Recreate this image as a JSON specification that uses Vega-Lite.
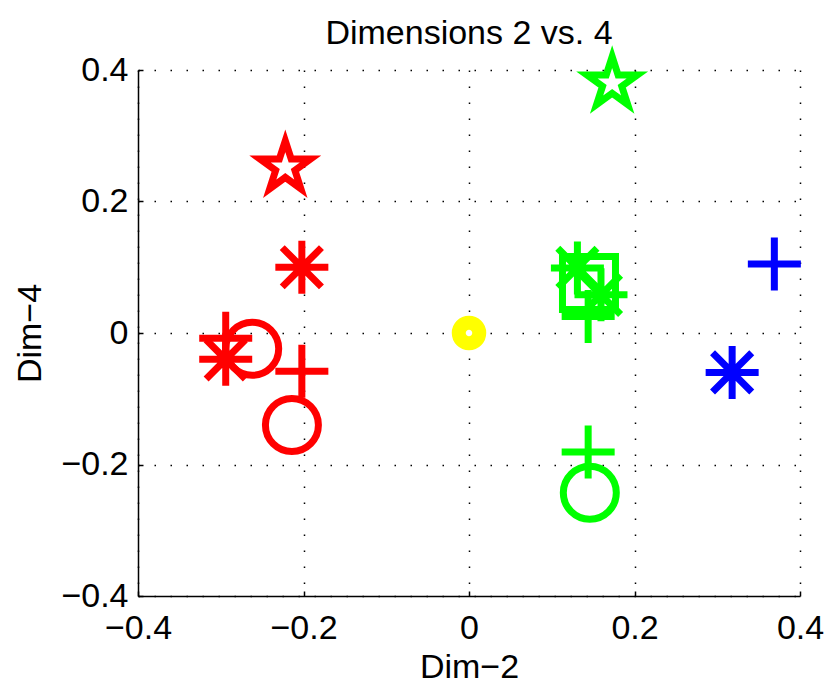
{
  "$schema": "https://vega.github.io/schema/vega-lite/v6.json",
  "width": 662,
  "height": 526,
  "autosize": {"type": "none"},
  "padding": {"left": 138, "top": 70, "right": 30, "bottom": 87},
  "background": "white",
  "config": {
    "font": "Liberation Sans",
    "view": {"stroke": null},
    "axis": {
      "labelFont": "Liberation Sans",
      "labelFontSize": 34,
      "labelColor": "black",
      "titleFont": "Liberation Sans",
      "titleFontSize": 34,
      "titleFontWeight": "normal",
      "titleColor": "black",
      "domainColor": "black",
      "domainWidth": 1.5,
      "tickColor": "black",
      "tickSize": -5,
      "tickWidth": 1.5,
      "gridColor": "black",
      "gridDash": [1.5, 14.5],
      "gridOpacity": 1,
      "gridWidth": 1.5
    }
  },
  "title": {
    "text": "Dimensions 2 vs. 4",
    "fontSize": 34,
    "fontWeight": "normal",
    "font": "Liberation Sans",
    "color": "black",
    "anchor": "middle",
    "offset": -8
  },
  "data": {
    "values": [
      {"group": "A", "marker": "star", "x": -0.222, "y": 0.252},
      {"group": "A", "marker": "asterisk", "x": -0.202, "y": 0.100},
      {"group": "A", "marker": "plus", "x": -0.294, "y": -0.008},
      {"group": "A", "marker": "asterisk", "x": -0.294, "y": -0.040},
      {"group": "A", "marker": "circle", "x": -0.262, "y": -0.024},
      {"group": "A", "marker": "plus", "x": -0.202, "y": -0.058},
      {"group": "A", "marker": "circle", "x": -0.214, "y": -0.140},
      {"group": "B", "marker": "star", "x": 0.173, "y": 0.380},
      {"group": "B", "marker": "asterisk", "x": 0.131, "y": 0.099},
      {"group": "B", "marker": "square", "x": 0.145, "y": 0.076},
      {"group": "B", "marker": "asterisk", "x": 0.1595, "y": 0.058},
      {"group": "B", "marker": "plus", "x": 0.144, "y": 0.025},
      {"group": "B", "marker": "plus", "x": 0.144, "y": -0.181},
      {"group": "B", "marker": "circle", "x": 0.146, "y": -0.243},
      {"group": "C", "marker": "plus", "x": 0.369, "y": 0.105},
      {"group": "C", "marker": "asterisk", "x": 0.318, "y": -0.060},
      {"group": "O", "marker": "dot", "x": 0.0, "y": 0.0}
    ]
  },
  "encoding": {
    "x": {
      "field": "x", "type": "quantitative",
      "scale": {"domain": [-0.4, 0.4], "nice": false, "zero": false},
      "axis": {
        "values": [-0.4, -0.2, 0, 0.2, 0.4],
        "labelExpr": "replace(datum.label, '-', '−')",
        "format": ".1~f",
        "title": "Dim−2",
        "titlePadding": 5,
        "labelPadding": 20,
        "labelFlush": false,
        "labelOverlap": false,
        "grid": true
      }
    },
    "y": {
      "field": "y", "type": "quantitative",
      "scale": {"domain": [-0.4, 0.4], "nice": false, "zero": false},
      "axis": {
        "values": [-0.4, -0.2, 0, 0.2, 0.4],
        "labelExpr": "replace(datum.label, '-', '−')",
        "format": ".1~f",
        "title": "Dim−4",
        "titlePadding": 13,
        "labelPadding": 15,
        "labelFlush": false,
        "labelOverlap": false,
        "grid": true
      }
    }
  },
  "layer": [
    {
      "transform": [{"filter": "datum.group !== 'O'"}],
      "mark": {"type": "point", "filled": false, "strokeJoin": "miter", "opacity": 1},
      "encoding": {
        "color": {
          "field": "group", "type": "nominal",
          "scale": {"domain": ["A", "B", "C"], "range": ["#ff0000", "#00ff00", "#0000ff"]},
          "legend": null
        },
        "shape": {
          "field": "marker", "type": "nominal",
          "scale": {
            "domain": ["plus", "asterisk", "circle", "star", "square"],
            "range": [
              "M-1,0L1,0M0,-1L0,1",
              "M-1,0L1,0M0,-1L0,1M-0.74,-0.74L0.74,0.74M-0.74,0.74L0.74,-0.74",
              "circle",
              "M0,-1L0.2245,-0.309L0.9511,-0.309L0.3633,0.118L0.5878,0.809L0,0.382L-0.5878,0.809L-0.3633,0.118L-0.9511,-0.309L-0.2245,-0.309Z",
              "square"
            ]
          },
          "legend": null
        },
        "size": {
          "field": "marker", "type": "nominal",
          "scale": {
            "domain": ["plus", "asterisk", "circle", "star", "square"],
            "range": [2809, 2809, 2704, 5417, 729]
          },
          "legend": null
        },
        "strokeWidth": {
          "field": "marker", "type": "nominal",
          "scale": {
            "domain": ["plus", "asterisk", "circle", "star", "square"],
            "range": [7, 7, 7, 6.5, 3]
          },
          "legend": null
        }
      }
    },
    {
      "transform": [{"filter": "datum.group === 'O'"}],
      "mark": {"type": "point", "filled": false, "shape": "circle", "size": 420, "strokeWidth": 14, "color": "#ffff00", "opacity": 1},
      "encoding": {}
    }
  ]
}
